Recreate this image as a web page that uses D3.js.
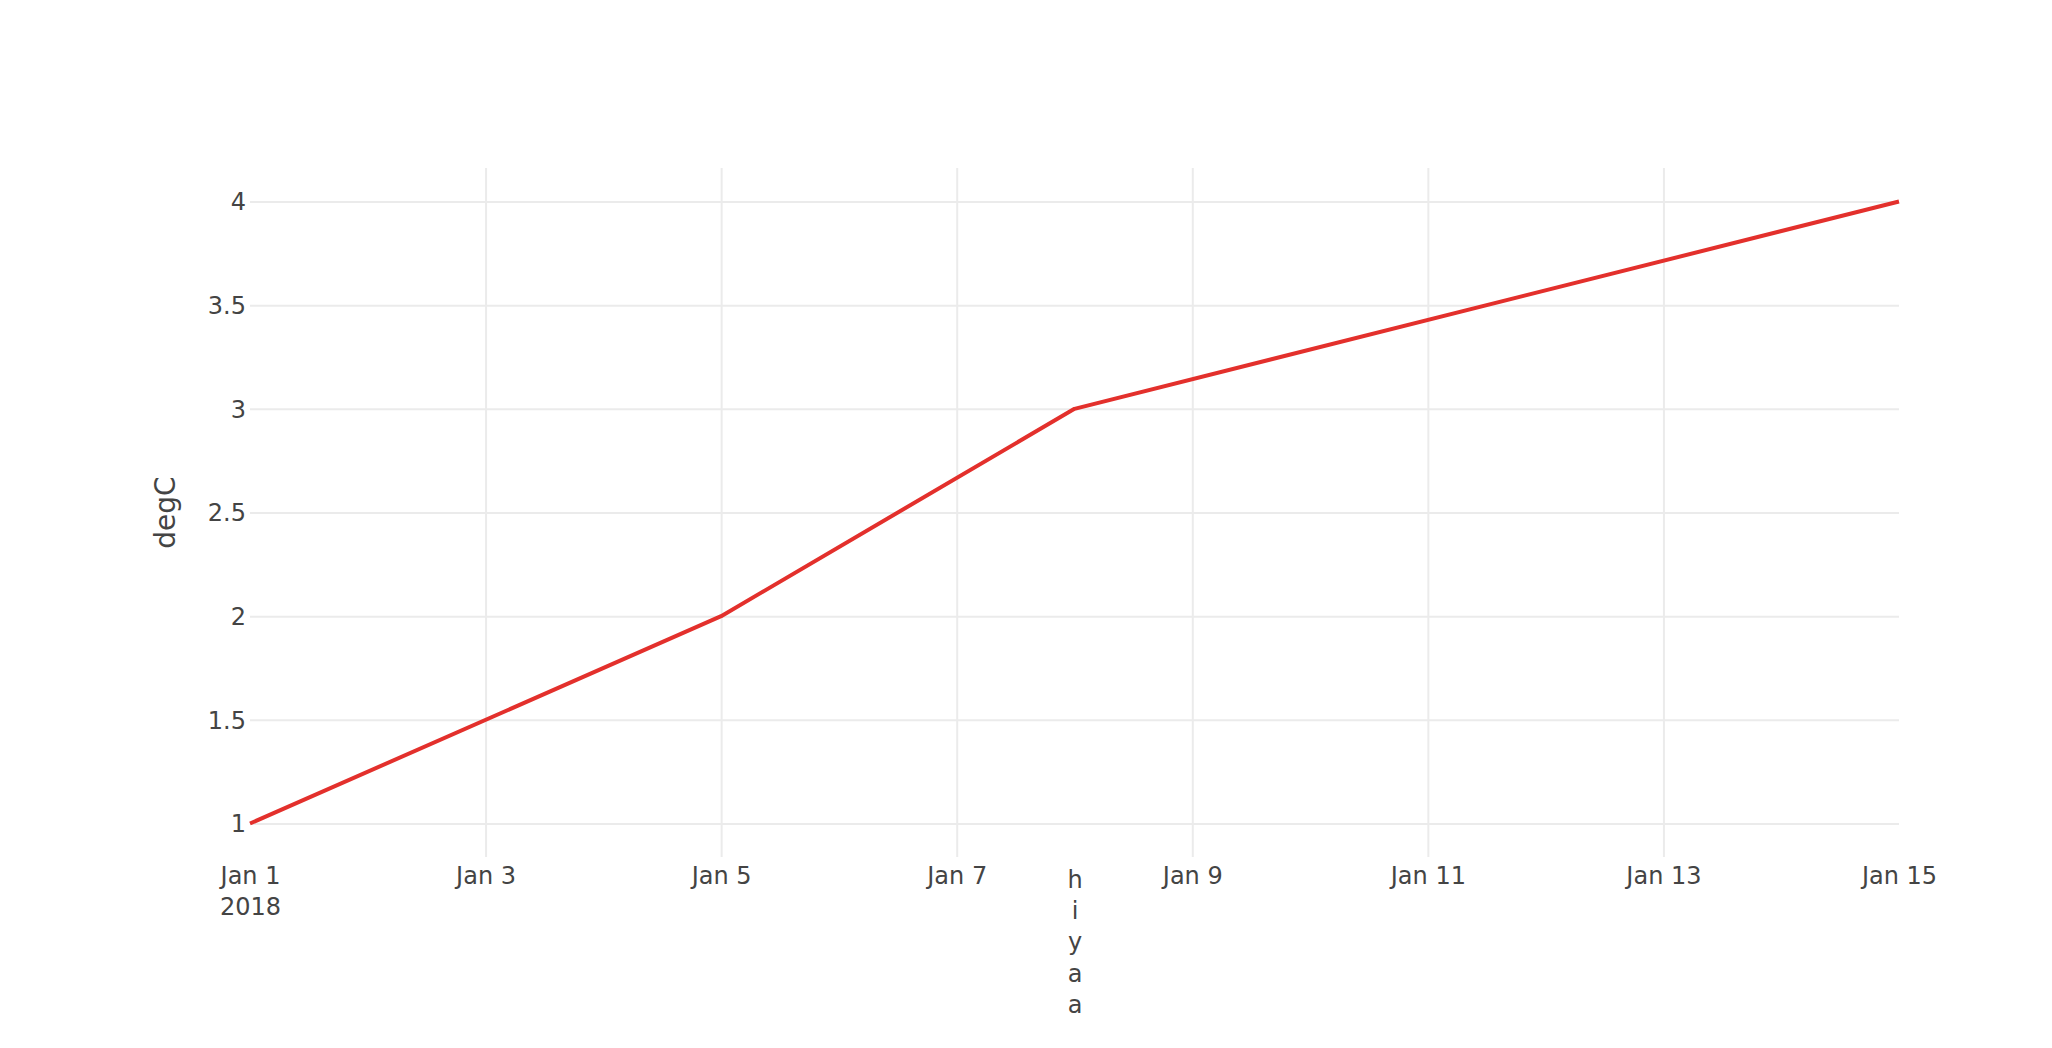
<!DOCTYPE html>
<html>
<head>
<meta charset="utf-8">
<script src="https://cdn.jsdelivr.net/npm/d3@7"></script>
<style>
  html, body { margin: 0; padding: 0; background: #fff; }
  svg { display: block; }
  text { font-family: "DejaVu Sans", Verdana, sans-serif; fill: #444; }
</style>
</head>
<body>
<svg id="chart" width="2052" height="1048"></svg>
<script>
// ---- data ----
const dates = ["2018-01-01", "2018-01-05", "2018-01-08", "2018-01-15"];
const values = [1, 2, 3, 4];
const xTickDates = ["2018-01-01", "2018-01-03", "2018-01-05", "2018-01-07", "2018-01-09", "2018-01-11", "2018-01-13", "2018-01-15"];
const xTickLabels = [["Jan 1", "2018"], ["Jan 3"], ["Jan 5"], ["Jan 7"], ["Jan 9"], ["Jan 11"], ["Jan 13"], ["Jan 15"]];
const extraTickDate = ["2018-01-08"];
const extraTickLabel = [["h", "i", "y", "a", "a"]];
const yTicks = [1, 1.5, 2, 2.5, 3, 3.5, 4];
const yDomain = [0.8385, 4.1615];
const yTitle = "degC";

(function () {
// ---- layout ----
const pL = 250, pR = 1899, pT = 168, pB = 857;
const parse = d3.utcParse("%Y-%m-%d");
const FONT = '"DejaVu Sans", Verdana, sans-serif';

const svg = d3.select("#chart");
const x = d3.scaleUtc().domain([parse(dates[0]), parse(dates[dates.length - 1])]).range([pL, pR]);
const y = d3.scaleLinear().domain(yDomain).range([pB, pT]);

// y gridlines + labels
const yAxis = d3.axisLeft(y).tickValues(yTicks).tickSize(-(pR - pL)).tickPadding(4)
  .tickFormat(d => String(d));
const gy = svg.append("g").attr("transform", `translate(${pL},0)`).call(yAxis);
gy.select(".domain").remove();
gy.selectAll(".tick line").attr("stroke", "#ebebeb").attr("stroke-width", 2);
gy.selectAll(".tick text").attr("font-size", 24).attr("dy", "0.35em")
  .style("font-family", FONT).attr("fill", "#444");

// x gridlines + labels
const xTicks = xTickDates.map(parse);
const xAxis = d3.axisBottom(x).tickValues(xTicks).tickSize(-(pB - pT)).tickPadding(10)
  .tickFormat(() => "");
const gx = svg.append("g").attr("transform", `translate(0,${pB})`).call(xAxis);
gx.select(".domain").remove();
gx.selectAll(".tick line")
  .attr("stroke", (d, i) => (i === 0 || i === xTicks.length - 1) ? "none" : "#ebebeb")
  .attr("stroke-width", 2);
gx.selectAll(".tick text").each(function (d, i) {
  const t = d3.select(this).attr("font-size", 24).attr("dy", null)
    .style("font-family", FONT).attr("fill", "#444");
  xTickLabels[i].forEach((s, k) => {
    t.append("tspan").attr("x", 0).attr("y", 27 + k * 31.2).text(s);
  });
});

// extra vertical tick label
const xAxis2 = d3.axisBottom(x).tickValues(extraTickDate.map(parse)).tickSize(0).tickFormat(() => "");
const gx2 = svg.append("g").attr("transform", `translate(0,${pB})`).call(xAxis2);
gx2.select(".domain").remove();
gx2.selectAll(".tick text").each(function (d, i) {
  const t = d3.select(this).attr("font-size", 24).attr("dy", null)
    .style("font-family", FONT).attr("fill", "#444");
  extraTickLabel[i].forEach((s, k) => {
    t.append("tspan").attr("x", 0).attr("y", 31 + k * 31.2).text(s);
  });
});

// y title
svg.append("text")
  .attr("transform", `translate(175,${(pT + pB) / 2}) rotate(-90)`)
  .attr("text-anchor", "middle")
  .attr("font-size", 28)
  .text(yTitle);

// line
const line = d3.line().x((d, i) => x(parse(dates[i]))).y(d => y(d));
svg.append("path")
  .datum(values)
  .attr("d", line)
  .attr("fill", "none")
  .attr("stroke", "#e3302c")
  .attr("stroke-width", 4)
  .attr("stroke-linejoin", "round");
})();
</script>
</body>
</html>
